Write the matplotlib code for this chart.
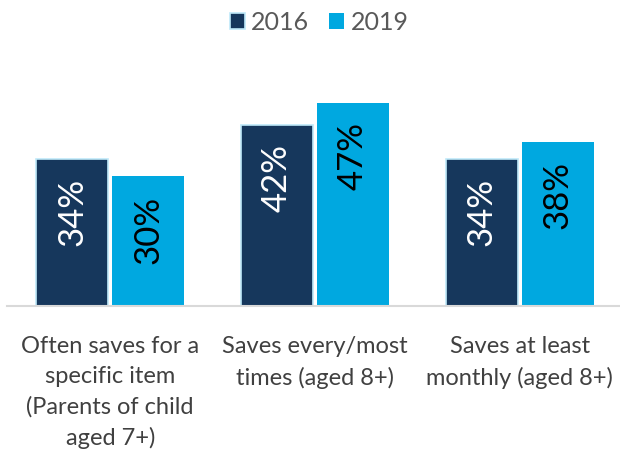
import matplotlib
matplotlib.use('Agg')
import matplotlib.pyplot as plt
import numpy as np

categories = ['Often saves for a\nspecific item\n(Parents of child\naged 7+)',
              'Saves every/most\ntimes (aged 8+)',
              'Saves at least\nmonthly (aged 8+)']
years = ['2016', '2019']
v2016 = [34, 42, 34]
v2019 = [30, 47, 38]

plt.rcParams['font.family'] = ['Lato', 'DejaVu Sans']

navy = '#16375C'
cyan = '#00A8E0'

f = plt.figure(figsize=(6.2, 4.52), dpi=100)
ax = f.add_axes([0.012, 1 - 307/452, 0.988, 216/452])

x = np.arange(len(categories))
w = 0.352
b1 = ax.bar(x - w/2 - 0.01, v2016, w, color=navy, edgecolor='#BFE9F9', linewidth=1.2, label=years[0])
b2 = ax.bar(x + w/2 + 0.01, v2019, w, color=cyan, label=years[1])

for bars, vals, tc in [(b1, v2016, 'white'), (b2, v2019, 'black')]:
    for r, v in zip(bars, vals):
        ax.text(r.get_x() + r.get_width()/2, v - 4.2, f'{v}%', rotation=90,
                ha='center', va='top', color=tc, fontsize=25)

ax.set_ylim(0, 50)
ax.set_xlim(-0.502, 2.49)
ax.set_yticks([])
ax.set_xticks(x)
ax.set_xticklabels(categories, fontsize=17, color='#404040', linespacing=1.52)
ax.tick_params(axis='x', length=0, pad=21)
for s in ['top', 'right', 'left']:
    ax.spines[s].set_visible(False)
ax.spines['bottom'].set_color('#D9D9D9')
ax.spines['bottom'].set_linewidth(1.5)

f.legend(handles=[b1, b2], loc='center', bbox_to_anchor=(0.515, 1 - 23/452), ncol=2,
         frameon=False, fontsize=18, labelcolor='#595959', handlelength=0.6,
         handleheight=0.6, handletextpad=0.25, columnspacing=0.8)

f.savefig('out.png', dpi=100)
